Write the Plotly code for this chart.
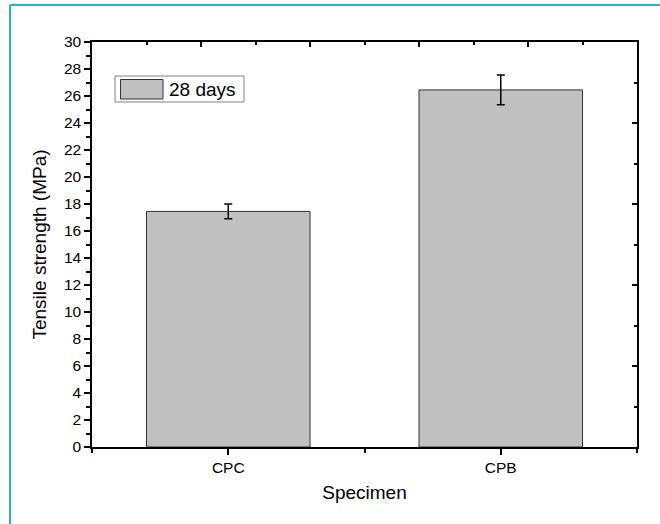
import plotly.graph_objects as go

categories = ["CPC", "CPB"]
strength = [17.45, 26.45]
error = [0.55, 1.1]
legend_label = "28 days"
y_title = "Tensile strength (MPa)"
x_title = "Specimen"

W, H = 660, 524
L, R, T, B = 92, 23, 42, 77
pw, ph = W - L - R, H - T - B

def px_x(p):
    return (p - L) / pw

def px_y(p):
    return (H - B - p) / ph

FONT = "Liberation Sans, Arial, sans-serif"

fig = go.Figure()
fig.add_trace(go.Bar(
    x=list(range(len(categories))), y=strength, width=0.6,
    marker=dict(color="#c0c0c0", line=dict(color="#333333", width=1)),
    error_y=dict(type="data", array=error, visible=True, color="black", thickness=1.5, width=4),
    showlegend=False, name=legend_label,
))
fig.add_trace(go.Scatter(x=[], y=[], xaxis="x2", yaxis="y2", showlegend=False))

axis_common = dict(showgrid=False, zeroline=False, showline=True, linecolor="black", linewidth=1.5)

fig.update_layout(
    width=W, height=H,
    margin=dict(l=L, r=R, t=T, b=B, autoexpand=False),
    paper_bgcolor="white", plot_bgcolor="white",
    font=dict(family=FONT, color="black", size=15.5),
    xaxis=dict(**axis_common, range=[-0.5, 1.5], tickvals=[0, 1], ticktext=categories,
               ticks="outside", ticklen=6, tickwidth=1.5, tickcolor="black",
               minor=dict(tickvals=[-0.5, 0.5, 1.5], ticks="outside", ticklen=4, tickwidth=1.5, tickcolor="black"),
               title=dict(text=x_title, font=dict(size=19), standoff=10),
               tickfont=dict(size=15.5), automargin=False),
    yaxis=dict(**axis_common, range=[0, 30], tick0=0, dtick=2,
               ticks="outside", ticklen=6, tickwidth=1.5, tickcolor="black",
               minor=dict(dtick=1, ticks="outside", ticklen=4, tickwidth=1.5, tickcolor="black"),
               title=dict(text=y_title, font=dict(size=19), standoff=12),
               tickfont=dict(size=15.5), automargin=False),
    xaxis2=dict(**axis_common, overlaying="x", side="top", anchor="y", range=[0, 1],
                tick0=0, dtick=0.2, ticks="inside", ticklen=5, tickwidth=1.5, tickcolor="black",
                minor=dict(dtick=0.1, ticks="inside", ticklen=3, tickwidth=1.5, tickcolor="black"),
                showticklabels=False),
    yaxis2=dict(**axis_common, overlaying="y", side="right", anchor="x", range=[0, 1],
                tick0=0, dtick=0.2, ticks="inside", ticklen=5, tickwidth=1.5, tickcolor="black",
                minor=dict(dtick=0.1, ticks="inside", ticklen=3, tickwidth=1.5, tickcolor="black"),
                showticklabels=False),
)

# light-blue outer frame (left and top edges visible)
frame = "#29abe2"
fig.add_shape(type="line", xref="paper", yref="paper", x0=px_x(10), x1=px_x(10), y0=px_y(5), y1=px_y(H + 5),
              line=dict(color=frame, width=2), layer="above")
fig.add_shape(type="line", xref="paper", yref="paper", x0=px_x(10), x1=px_x(W + 5), y0=px_y(5), y1=px_y(5),
              line=dict(color=frame, width=2), layer="above")

# legend box
fig.add_shape(type="rect", xref="paper", yref="paper", x0=px_x(115), x1=px_x(244), y0=px_y(102), y1=px_y(76),
              line=dict(color="#808080", width=1), fillcolor="white", layer="above")
fig.add_shape(type="rect", xref="paper", yref="paper", x0=px_x(120.5), x1=px_x(163), y0=px_y(99), y1=px_y(79.5),
              line=dict(color="#333333", width=1), fillcolor="#c0c0c0", layer="above")
fig.add_annotation(xref="paper", yref="paper", x=px_x(167), y=px_y(89.5), text=legend_label,
                   showarrow=False, xanchor="left", yanchor="middle", font=dict(size=19, family=FONT))

fig.write_html("out.html")
